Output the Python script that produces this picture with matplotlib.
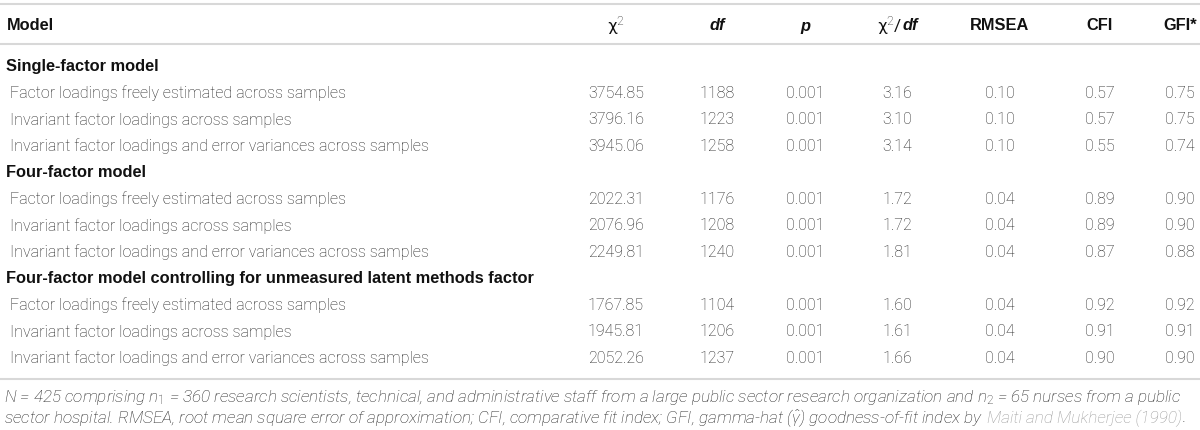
import matplotlib
matplotlib.use("Agg")
import matplotlib.pyplot as plt

# table data
groups = ["Single-factor model",
          "Four-factor model",
          "Four-factor model controlling for unmeasured latent methods factor"]
row_labels = ["Factor loadings freely estimated across samples",
              "Invariant factor loadings across samples",
              "Invariant factor loadings and error variances across samples"]
chi2 = ["3754.85", "3796.16", "3945.06", "2022.31", "2076.96", "2249.81",
        "1767.85", "1945.81", "2052.26"]
dfs = ["1188", "1223", "1258", "1176", "1208", "1240", "1104", "1206", "1237"]
pvals = ["0.001"] * 9
ratio = ["3.16", "3.10", "3.14", "1.72", "1.72", "1.81", "1.60", "1.61", "1.66"]
rmsea = ["0.10", "0.10", "0.10", "0.04", "0.04", "0.04", "0.04", "0.04", "0.04"]
cfi = ["0.57", "0.57", "0.55", "0.89", "0.89", "0.87", "0.92", "0.91", "0.90"]
gfi = ["0.75", "0.75", "0.74", "0.90", "0.90", "0.88", "0.92", "0.91", "0.90"]

plt.rcParams['mathtext.fontset'] = 'custom'
plt.rcParams['mathtext.rm'] = 'Roboto:light'
plt.rcParams['mathtext.it'] = 'Roboto:italic:light'

FAM = ['Roboto', 'DejaVu Sans']
BOLDFAM = ['Liberation Sans', 'DejaVu Sans']
TXT = '#222222'
HEAD = '#111111'
LINE = '#d8d8d8'
FS = 11.5
FS_B = 11.8
FS_NOTE = 12.3

fig = plt.figure(figsize=(12, 4.31), dpi=100)
ax = fig.add_axes([0, 0, 1, 1])
ax.set_xlim(0, 1200)
ax.set_ylim(431, 0)
ax.axis('off')

# rules
for yy in [5, 45, 380]:
    ax.plot([0, 1200], [yy, yy], color=LINE, lw=1.5, solid_capstyle='butt')

col_x = [616, 717, 805, 897, 1000, 1100, 1180]

# header
hy = 26
bold = dict(fontsize=FS_B, fontweight='bold', family=BOLDFAM, color=HEAD, va='center')
ax.text(7, hy, "Model", **bold)
ax.text(col_x[0], hy, r"$\mathregular{\chi}^{2}$", fontsize=FS + 1, family=FAM, color=HEAD,
        va='center', ha='center')
ax.text(col_x[1], hy, "df", style='italic', ha='center', **bold)
ax.text(col_x[2], hy, "p", style='italic', ha='center', **bold)
ax.text(col_x[3] + 6, hy, r"$\mathregular{\chi}^{2}$/", fontsize=FS + 1, family=FAM,
        color=HEAD, va='center', ha='right')
ax.text(col_x[3] + 6, hy, "df", style='italic', ha='left', **bold)
ax.text(col_x[4], hy, "RMSEA", ha='center', **bold)
ax.text(col_x[5], hy, "CFI", ha='center', **bold)
ax.text(col_x[6], hy, "GFI*", ha='center', **bold)

# body
y0 = 67
step = 26.5
k = 0
line_no = 0
body = dict(fontsize=FS, fontweight='light', family=FAM, color=TXT, va='center')
for g in range(3):
    ax.text(6, y0 + step * line_no, groups[g], **bold)
    line_no += 1
    for r in range(3):
        y = y0 + step * line_no
        ax.text(10, y, row_labels[r], **body)
        vals = [chi2[k], dfs[k], pvals[k], ratio[k], rmsea[k], cfi[k], gfi[k]]
        for cx, v in zip(col_x, vals):
            ax.text(cx, y, v, ha='center', **body)
        k += 1
        line_no += 1

# footnote, drawn as runs of text
fig.canvas.draw()
renderer = fig.canvas.get_renderer()


def put_runs(x, y, runs):
    for s, col, gap in runs:
        t = ax.text(x, y, s, fontsize=FS_NOTE, style='italic', fontweight='light', family=FAM,
                    color=col, va='center')
        bb = t.get_window_extent(renderer=renderer)
        x += bb.width + gap


put_runs(4, 398, [(r"$N$ = 425 comprising $n_1$ = 360 research scientists, technical, and administrative staff "
                   r"from a large public sector research organization and $n_2$ = 65 nurses from a public", TXT, 0)])
put_runs(4, 418, [(r"sector hospital. RMSEA, root mean square error of approximation; CFI, comparative fit index; "
                   r"GFI, gamma-hat ($\hat{\gamma}$) goodness-of-fit index by", TXT, 4),
                  ("Maiti and Mukherjee (1990)", '#9a9a9a', 0.5),
                  (".", TXT, 0)])

fig.savefig("out.png", dpi=100)
